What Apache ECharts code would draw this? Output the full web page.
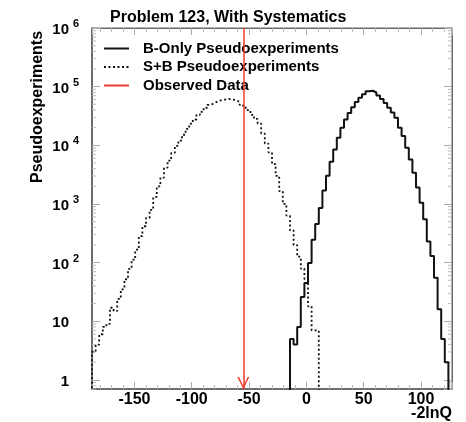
<!DOCTYPE html>
<html>
<head>
<meta charset="utf-8">
<script src="https://cdn.jsdelivr.net/npm/echarts@6/dist/echarts.min.js"></script>
<style>
    html, body { margin: 0; padding: 0; background: #fff; }
    #chart { width: 466px; height: 422px; }
</style>
</head>
<body>
<div id="chart"></div>
<script>
// histogram binning: 100 bins between histMin and histMax
var histMin = -187;
var histMax = 127;
var binWidth = 3.14;

// B-only pseudoexperiments, counts of bins 55..98
var bOnlyFirstBin = 55;
var bOnlyCounts = [5, 4, 8, 26, 45, 98, 245, 457, 851, 1698,
    3020, 5248, 8511, 13490, 19950, 27540, 35480, 44670, 54950, 64570,
    74130, 83180, 85110, 79430, 70790, 61660, 52480, 43650, 36310, 29510,
    19950, 14450, 9120, 5750, 3390, 1905, 1047, 550, 229, 129,
    55, 16, 5, 2];

// S+B pseudoexperiments, counts of bins 0..62
var sbFirstBin = 0;
var sbCounts = [3, 4, 6, 8, 9, 17, 15, 24, 35, 52,
    78, 112, 166, 282, 417, 575, 794, 1318, 1995, 2818,
    4169, 5495, 7413, 9772, 12023, 15136, 19055, 23442, 27542, 33113,
    37154, 43652, 48978, 52481, 56234, 58884, 60256, 61660, 60256, 58884,
    54954, 48978, 43652, 39811, 33113, 28184, 23442, 15849, 10715, 7586,
    4786, 3020, 1660, 1000, 631, 355, 200, 126, 79, 52,
    18, 7, 7];

// observed -2lnQ
var observedValue = -55;

var seriesNames = ['B-Only Pseudoexperiments', 'S+B Pseudoexperiments', 'Observed Data'];
var yMin = 0.7;
var yMax = 1e6;

var FONT = '"Liberation Sans", Arial, Helvetica, sans-serif';
var RED = '#f23a28';
var EMPTY = 0.01; // below the axis, clipped away

/**
 * 把直方图计数转换成阶梯线的点（左边沿）
 */
function histPoints(firstBin, counts) {
    var pts = [[histMin + (firstBin - 1) * binWidth, EMPTY]];
    for (var i = 0; i < counts.length; i++) {
        pts.push([histMin + (firstBin + i) * binWidth, counts[i] > 0 ? counts[i] : EMPTY]);
    }
    pts.push([histMin + (firstBin + counts.length) * binWidth, EMPTY]);
    return pts;
}

// log minor ticks (2..9 x 10^k)
var minorTickData = [];
for (var k = -1; k < 6; k++) {
    for (var m = 2; m <= 9; m++) {
        var v = m * Math.pow(10, k);
        if (v > yMin && v < yMax) minorTickData.push([histMin, v]);
    }
}

function yLabel(value) {
    var e = Math.round(Math.log(value) / Math.LN10);
    if (e === 0) return '{b|1}{e|}';
    if (e === 1) return '{b|10}{e|}';
    return '{b|10}{e|' + e + '}';
}

var myChart = echarts.init(document.getElementById('chart'), null, {renderer: 'canvas'});
var option = {
    animation: false,
    backgroundColor: '#fff',
    title: {
        text: 'Problem 123, With Systematics',
        left: 105,
        top: 5,
        textStyle: {fontFamily: FONT, fontWeight: 'bold', fontSize: 16, color: '#000'}
    },
    legend: {
        orient: 'vertical',
        left: 98,
        top: 36,
        itemWidth: 25,
        itemHeight: 14,
        itemGap: 3.5,
        selectedMode: false,
        data: seriesNames,
        textStyle: {fontFamily: FONT, fontWeight: 'bold', fontSize: 15, color: '#000', padding: [0, 0, 0, 9]}
    },
    grid: {
        left: 92, right: 14, top: 28, bottom: 33,
        outerBoundsMode: 'none',
        containLabel: false,
        show: true, borderColor: '#666', borderWidth: 1, backgroundColor: '#fff'
    },
    graphic: [{
        type: 'text',
        x: 38, y: 107,
        rotation: Math.PI / 2,
        style: {
            text: 'Pseudoexperiments', fill: '#000',
            font: 'bold 16px ' + FONT,
            align: 'center', verticalAlign: 'middle'
        }
    }, {
        type: 'text',
        x: 452, y: 414,
        style: {
            text: '-2lnQ', fill: '#000',
            font: 'bold 16px ' + FONT,
            align: 'right', verticalAlign: 'middle'
        }
    }],
    xAxis: [{
        type: 'value',
        min: histMin, max: histMax,
        minInterval: 50, maxInterval: 50,
        axisLine: {onZero: false, lineStyle: {color: '#555', width: 1.5}},
        axisTick: {inside: true, length: 7, lineStyle: {color: '#aaa'}},
        minorTick: {show: true, splitNumber: 5, length: 4, lineStyle: {color: '#bbb'}},
        splitLine: {show: false},
        axisLabel: {
            showMinLabel: false, showMaxLabel: false, margin: 3,
            color: '#000', fontFamily: FONT, fontWeight: 'bold', fontSize: 16
        }
    }, {
        type: 'value',
        position: 'top',
        min: histMin, max: histMax,
        minInterval: 50, maxInterval: 50,
        axisLine: {show: true, onZero: false, lineStyle: {color: '#666', width: 1}},
        axisTick: {inside: true, length: 7, lineStyle: {color: '#aaa'}},
        minorTick: {show: true, splitNumber: 5, length: 4, lineStyle: {color: '#bbb'}},
        splitLine: {show: false},
        axisLabel: {show: false}
    }],
    yAxis: [{
        type: 'log',
        logBase: 10,
        min: yMin, max: yMax,
        axisLine: {show: true, onZero: false, lineStyle: {color: '#555', width: 1.5}},
        axisTick: {inside: true, length: 8, lineStyle: {color: '#aaa'}},
        splitLine: {show: false},
        axisLabel: {
            showMinLabel: false,
            margin: 13,
            formatter: yLabel,
            rich: {
                b: {fontFamily: FONT, fontWeight: 'bold', fontSize: 15, color: '#000', padding: [4, 0, 0, 0]},
                e: {fontFamily: FONT, fontWeight: 'bold', fontSize: 11, color: '#000', width: 10,
                    align: 'right', padding: [0, 0, 8, 0]}
            }
        }
    }, {
        type: 'log',
        logBase: 10,
        position: 'right',
        min: yMin, max: yMax,
        axisLine: {show: true, onZero: false, lineStyle: {color: '#666', width: 1}},
        axisTick: {inside: true, length: 8, lineStyle: {color: '#aaa'}},
        splitLine: {show: false},
        axisLabel: {show: false}
    }],
    series: [{
        type: 'custom',
        silent: true,
        data: minorTickData,
        renderItem: function (params, api) {
            var p = api.coord([histMin, api.value(1)]);
            var q = api.coord([histMax, api.value(1)]);
            return {
                type: 'group',
                children: [
                    {type: 'line', shape: {x1: p[0], y1: p[1], x2: p[0] + 4, y2: p[1]}, style: {stroke: '#bbb', lineWidth: 1}},
                    {type: 'line', shape: {x1: q[0], y1: q[1], x2: q[0] - 4, y2: q[1]}, style: {stroke: '#bbb', lineWidth: 1}}
                ]
            };
        }
    }, {
        name: seriesNames[0],
        type: 'line',
        step: 'end',
        symbol: 'none',
        clip: true,
        data: histPoints(bOnlyFirstBin, bOnlyCounts),
        lineStyle: {color: '#111', width: 2},
        itemStyle: {color: 'rgba(0,0,0,0)'}
    }, {
        name: seriesNames[1],
        type: 'line',
        step: 'end',
        symbol: 'none',
        clip: true,
        data: histPoints(sbFirstBin, sbCounts),
        lineStyle: {color: '#111', width: 1.8, type: [2, 2.5]},
        itemStyle: {color: 'rgba(0,0,0,0)'}
    }, {
        name: seriesNames[2],
        type: 'line',
        symbol: 'none',
        data: [],
        lineStyle: {color: RED, width: 1.5},
        itemStyle: {color: 'rgba(0,0,0,0)'},
        markLine: {
            silent: true,
            animation: false,
            symbol: ['path://M5,0 L10,10 L8.6,10 L5,2.6 L1.4,10 L0,10 Z', 'none'],
            symbolSize: [12, 12],
            symbolOffset: [[0, 6], 0],
            label: {show: false},
            itemStyle: {color: RED},
            lineStyle: {color: RED, width: 1.5, type: 'solid'},
            data: [{xAxis: observedValue}]
        }
    }]
};
myChart.setOption(option, true);
</script>
</body>
</html>
